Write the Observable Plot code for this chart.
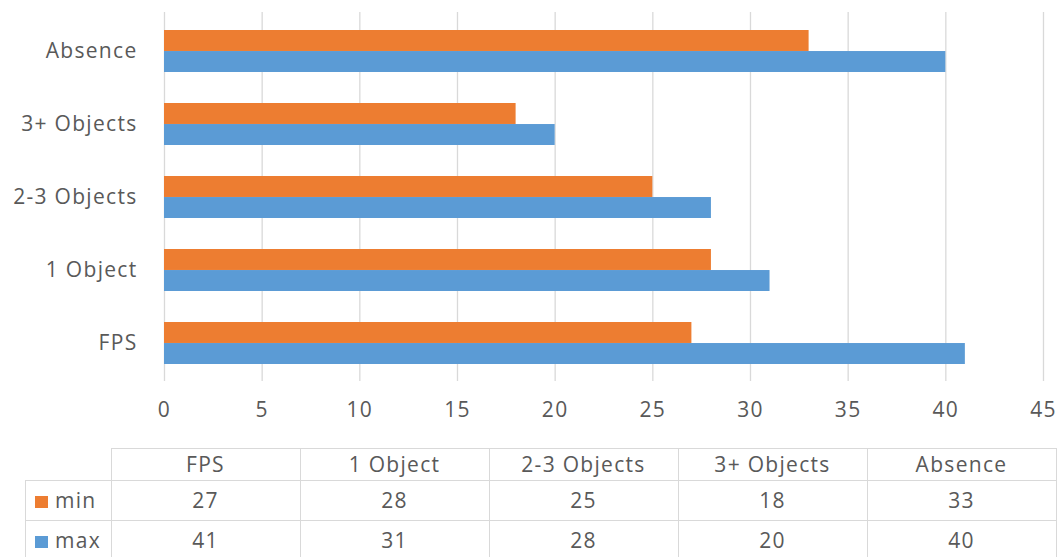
<!DOCTYPE html>
<html>
<head>
<meta charset="utf-8">
<script src="https://cdn.jsdelivr.net/npm/d3@7"></script>
<script src="https://cdn.jsdelivr.net/npm/@observablehq/plot@0.6"></script>
<style>
  html, body { margin: 0; padding: 0; background: #fff; }
  #wrap { position: relative; width: 1062px; height: 557px; overflow: hidden; font-family: "Open Sans", sans-serif; color: #595959; }
  #chart { position: absolute; left: 0; top: 0; }
  #chart svg text { letter-spacing: 1.3px; }
  #table { position: absolute; left: 25px; top: 448px; border-collapse: collapse; font-size: 21px; letter-spacing: 1.3px; color: #595959; }
  #table td { border: 1px solid #d9d9d9; text-align: center; padding: 0; line-height: 1; }
  #table tr.head td { height: 31px; }
  #table tr.row td { height: 39px; }
  #table td.corner { border-top: none; border-left: none; width: 85px; }
  #table td.col { width: 188px; }
  #table td.name { text-align: left; padding-left: 9px; }
  .sw { display: inline-block; width: 13px; height: 12px; margin-right: 7px; vertical-align: 0px; }
</style>
</head>
<body>
<div id="wrap">
  <div id="chart"></div>
  <table id="table"></table>
</div>
<script>
// Categories in table order (bottom to top on the chart)
const categories = ["FPS", "1 Object", "2-3 Objects", "3+ Objects", "Absence"];
const minValues = [27, 28, 25, 18, 33];
const maxValues = [41, 31, 28, 20, 40];
const seriesNames = ["min", "max"];
const seriesColors = ["#ED7D31", "#5B9BD5"];
const xTicks = [0, 5, 10, 15, 20, 25, 30, 35, 40, 45];

const rows = categories.map((c, i) => ({category: c, min: minValues[i], max: maxValues[i]}));

// Each category band holds two bars: min in the upper half, max in the lower half
const bandPadding = 0.43;
const plotTop = 12, plotBottom = 381;
const step = (plotBottom - plotTop) / categories.length;
const half = step * (1 - bandPadding) / 2;

const chart = Plot.plot({
  width: 1062,
  height: 440,
  marginLeft: 164,
  marginRight: 19,
  marginTop: plotTop,
  marginBottom: 440 - plotBottom,
  style: {fontFamily: "'Open Sans', sans-serif", fontSize: "21px", color: "#595959", background: "#fff"},
  x: {domain: [0, 45], ticks: xTicks},
  y: {domain: [...categories].reverse(), paddingInner: bandPadding, paddingOuter: bandPadding / 2, label: null},
  marks: [
    Plot.ruleX(xTicks, {stroke: "#d9d9d9", strokeWidth: 1.3}),
    Plot.barX(rows, {x: "min", y: "category", fill: seriesColors[0], insetBottom: half}),
    Plot.barX(rows, {x: "max", y: "category", fill: seriesColors[1], insetTop: half}),
    Plot.axisX({ticks: xTicks, tickSize: 0, tickPadding: 21, label: null}),
    Plot.axisY({tickSize: 0, tickPadding: 27, label: null})
  ]
});
document.getElementById("chart").appendChild(chart);

// Data table below the chart
const table = d3.select("#table");
const head = table.append("tr").attr("class", "head");
head.append("td").attr("class", "corner");
categories.forEach(c => head.append("td").attr("class", "col").text(c));
[minValues, maxValues].forEach((vals, s) => {
  const tr = table.append("tr").attr("class", "row");
  const name = tr.append("td").attr("class", "name");
  name.append("span").attr("class", "sw").style("background", seriesColors[s]);
  name.append("span").text(seriesNames[s]);
  vals.forEach(v => tr.append("td").text(v));
});
</script>
</body>
</html>
